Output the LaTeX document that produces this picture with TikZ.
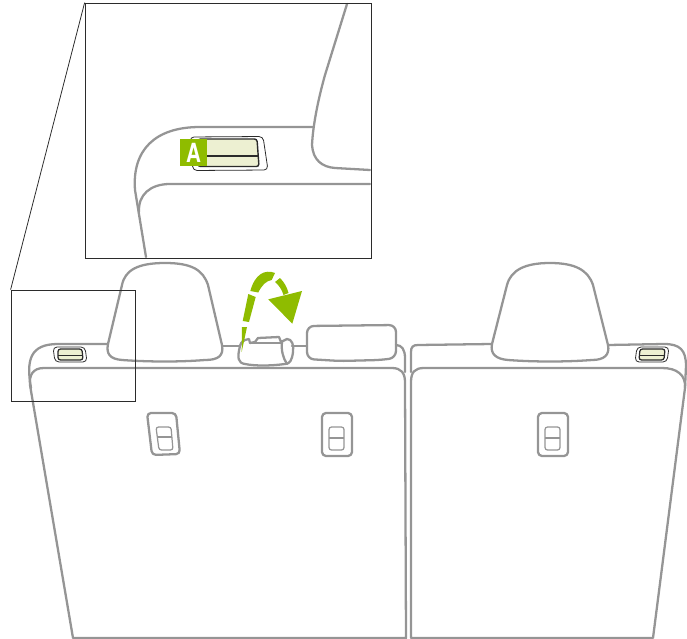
\documentclass[tikz,border=0pt]{standalone}
\usepackage{fontspec}
\usepackage{graphicx}
\setsansfont{TeX Gyre Heros}
\usetikzlibrary{positioning}
\definecolor{seatgray}{HTML}{959595}
\definecolor{markgreen}{HTML}{8FBC00}
\definecolor{plate}{HTML}{EDF0D2}
\definecolor{rim}{HTML}{2B2B2B}

\begin{document}
\begin{tikzpicture}[
    x=0.02cm, y=-0.02cm,
    seat/.style={draw=seatgray, line width=1.3pt, line join=round, line cap=round},
    lever/.style={seat, rounded corners=0.08cm},
    slot/.style={draw=seatgray, line width=0.7pt, rounded corners=0.05cm},
    rim/.style={draw=rim, line width=0.45pt, rounded corners=0.08cm, fill=white},
    latch/.style={draw=rim, line width=0.7pt, rounded corners=0.05cm, fill=plate},
    zoombox/.style={rectangle, draw=rim, line width=0.45pt, inner sep=0pt},
    swing/.style={fill=markgreen, draw=none}
]
\useasboundingbox (0,0) rectangle (687,639);

% ---------------- LEFT SEAT ----------------
\draw[seat] (73,638) -- (30,385) .. controls (29,375) and (33,368) .. (44,368)
    -- (392,368) .. controls (401,368) and (405,373) .. (405,382) -- (406,638) -- cycle;
\draw[seat] (31,388) .. controls (26,360) and (30,344) .. (58,344) -- (108,344);
\draw[seat] (222,346) -- (239,346);
\draw[seat] (292,346) -- (307,346);
\draw[seat] (396,345) .. controls (402,345) and (405,350) .. (405,358) -- (405,372);

% headrest
\draw[seat] (108,344) -- (122,285) .. controls (125,270) and (138,263) .. (165,263)
    .. controls (192,263) and (203,270) .. (208,285) -- (222,345)
    .. controls (224,356) and (218,360) .. (205,360)
    .. controls (180,362) and (150,362) .. (122,360)
    .. controls (110,359) and (106,354) .. (108,344) -- cycle;

% folded headrest
\draw[seat] (240,346) .. controls (241,342) and (243,340) .. (249,339) -- (250,343)
    -- (255,342) -- (258,338) -- (279,337) -- (281,342) -- (287,339)
    .. controls (292,339) and (294,345) .. (293,352)
    .. controls (292,360) and (290,364) .. (285,364)
    .. controls (270,366) and (255,366) .. (245,364)
    .. controls (238,363) and (237,358) .. (240,346) -- cycle;
\draw[seat] (250,343) -- (281,343);
\draw[seat] (282,342) .. controls (281,350) and (283,358) .. (287,364);

% stowed headrest
\draw[seat, rounded corners=0.14cm] (307,326) -- (396,325) -- (396,358)
    -- (380,360) -- (340,361) -- (307,359) -- cycle;

% ---------------- RIGHT SEAT ----------------
\draw[seat] (411,638) -- (411,382) .. controls (411,372) and (415,368) .. (424,368)
    -- (662,368) .. controls (677,368) and (686,375) .. (685,388) -- (653,638) -- cycle;
\draw[seat] (411,372) -- (411,352) .. controls (411,347) and (413,345) .. (418,345) -- (492,344);
\draw[seat] (608,345) -- (664,344) .. controls (680,344) and (686,350) .. (686,366) -- (685,388);

% headrest
\draw[seat] (492,344) -- (507,285) .. controls (511,270) and (525,263) .. (550,263)
    .. controls (575,263) and (588,270) .. (593,285) -- (608,345)
    .. controls (610,355) and (604,360) .. (592,360)
    .. controls (565,362) and (535,362) .. (508,360)
    .. controls (496,359) and (490,354) .. (492,344) -- cycle;

% ---------------- LEVERS ----------------
\draw[lever] (147,413) -- (176,413) -- (180,454) -- (152,455) -- cycle;
\draw[slot] (156,427) -- (171,427) -- (173,450) -- (159,450) -- cycle;
\draw[seatgray, line width=0.7pt] (157,437) -- (172,437);

\foreach \leverx in {322,538}{
    \draw[lever] (\leverx,413) -- (\leverx+30,413) -- (\leverx+30,456) -- (\leverx,456) -- cycle;
    \draw[slot] (\leverx+7,427) -- (\leverx+22,427) -- (\leverx+22,450) -- (\leverx+7,450) -- cycle;
    \draw[seatgray, line width=0.7pt] (\leverx+7,438) -- (\leverx+22,438);
}

% ---------------- LATCHES ----------------
\draw[rim] (53,347) -- (85,347) -- (87,362) -- (55,362) -- cycle;
\draw[latch] (58,349) -- (82,349) -- (83,360) -- (58,360) -- cycle;
\draw[rim, line width=0.4pt] (58,355) -- (83,355);

\draw[rim] (637,347) -- (669,347) -- (667,362) -- (635,362) -- cycle;
\draw[latch] (640,349) -- (665,349) -- (664,360) -- (639,360) -- cycle;
\draw[rim, line width=0.4pt] (640,355) -- (664,355);

% ---------------- SWING ARROW ----------------
\fill[swing] (241.7,352) -- (242,327) -- (247,327) -- cycle;
\fill[swing] (242.7,321) -- (249,322) -- (255.7,297) -- (248.3,294) -- cycle;
\fill[swing] (250.3,291) -- (258.3,292.5) .. controls (262,285) and (266,281) .. (271.7,280)
    -- (275,273) .. controls (265,269) and (255,274) .. (250.3,291) -- cycle;
\fill[swing] (275,282) -- (280,278) .. controls (284,282) and (287,287) .. (288.5,293)
    -- (283.5,295) .. controls (282,290) and (279,285) .. (275,282) -- cycle;
\fill[swing] (268.3,299.3) -- (302,291) -- (292.3,323.7) -- cycle;

% ---------------- DETAIL ----------------
\node[zoombox, minimum width=2.48cm, minimum height=2.22cm] (detail) at (73,345.5) {};

% inset seat
\draw[seat] (313,127) -- (200,127) .. controls (155,127) and (132,150) .. (135,190) -- (146,257);
\draw[seat] (370,184) -- (170,184) .. controls (150,184) and (138,195) .. (139,212);
\draw[seat] (347,4) -- (325,75) .. controls (318,100) and (313,125) .. (312,145)
    .. controls (313,160) and (322,167) .. (335,168) -- (370,170);

\node[zoombox, minimum width=5.72cm, minimum height=5.1cm] (inset) at (228,130.5) {};
\draw[draw=rim, line width=0.45pt] (detail.north west) -- (inset.north west);

% inset latch
\draw[rim] (190,137) -- (263,136.5) -- (268,170) -- (193,170.5) -- cycle;
\draw[latch, line width=0.8pt] (198,139) -- (257,139) -- (259,166.5) -- (198,166.5) -- cycle;
\draw[rim, line width=0.6pt] (198,156) -- (258.5,156);
\node[fill=markgreen, text=white, font=\sffamily\bfseries\fontsize{15}{15}\selectfont,
    minimum width=0.54cm, minimum height=0.53cm, inner sep=0pt] (marka) at (193.5,152.5)
    {\scalebox{0.78}[1]{A}};

\end{tikzpicture}
\end{document}
